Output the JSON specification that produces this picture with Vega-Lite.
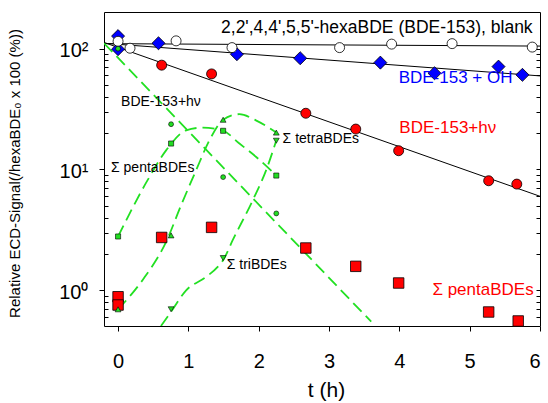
{
  "$schema": "https://vega.github.io/schema/vega-lite/v6.json",
  "width": 436,
  "height": 314,
  "autosize": "none",
  "padding": {"left": 104, "top": 12, "right": 8, "bottom": 77},
  "background": "white",
  "config": {
    "font": "Liberation Sans",
    "view": {"stroke": "black", "strokeWidth": 1},
    "point": {"opacity": 1},
    "axis": {"grid": false, "domain": false, "tickColor": "black", "labelColor": "black", "titleColor": "black", "labelFont": "Liberation Sans", "titleFont": "Liberation Sans", "titleFontWeight": "normal"}
  },
  "datasets": {
    "pts": [
      {"s": "blank", "t": 0, "v": 115},
      {"s": "blank", "t": 0.17, "v": 100.8},
      {"s": "blank", "t": 0.825, "v": 116},
      {"s": "blank", "t": 1.62, "v": 102},
      {"s": "blank", "t": 3.15, "v": 102},
      {"s": "blank", "t": 3.89, "v": 109},
      {"s": "blank", "t": 4.75, "v": 110},
      {"s": "blank", "t": 5.89, "v": 103},
      {"s": "oh", "t": 0, "v": 127},
      {"s": "oh", "t": 0, "v": 99},
      {"s": "oh", "t": 0.575, "v": 110.8},
      {"s": "oh", "t": 1.69, "v": 89.9},
      {"s": "oh", "t": 2.59, "v": 83.3},
      {"s": "oh", "t": 3.73, "v": 76.6},
      {"s": "oh", "t": 4.5, "v": 62.6},
      {"s": "oh", "t": 5.41, "v": 71},
      {"s": "oh", "t": 5.75, "v": 60.7},
      {"s": "hv", "t": 0.62, "v": 73},
      {"s": "hv", "t": 1.33, "v": 61.8},
      {"s": "hv", "t": 2.67, "v": 29.2},
      {"s": "hv", "t": 3.38, "v": 21.6},
      {"s": "hv", "t": 3.99, "v": 14.3},
      {"s": "hv", "t": 5.27, "v": 8.07},
      {"s": "hv", "t": 5.67, "v": 7.57},
      {"s": "pentared", "t": 0, "v": 0.885},
      {"s": "pentared", "t": 0, "v": 0.756},
      {"s": "pentared", "t": 0.62, "v": 2.74},
      {"s": "pentared", "t": 1.33, "v": 3.32},
      {"s": "pentared", "t": 2.67, "v": 2.24},
      {"s": "pentared", "t": 3.38, "v": 1.58},
      {"s": "pentared", "t": 3.99, "v": 1.15},
      {"s": "pentared", "t": 5.27, "v": 0.662},
      {"s": "pentared", "t": 5.69, "v": 0.558},
      {"s": "ghv", "t": 0, "v": 100},
      {"s": "ghv", "t": 0.754, "v": 23.7},
      {"s": "ghv", "t": 1.494, "v": 8.65},
      {"s": "ghv", "t": 2.25, "v": 4.33},
      {"s": "gpenta", "t": 0, "v": 2.79},
      {"s": "gpenta", "t": 0.754, "v": 16.4},
      {"s": "gpenta", "t": 1.494, "v": 20.9},
      {"s": "gpenta", "t": 2.25, "v": 8.91},
      {"s": "gtetra", "t": 0, "v": 0.697},
      {"s": "gtetra", "t": 0.754, "v": 2.85},
      {"s": "gtetra", "t": 1.494, "v": 25.8},
      {"s": "gtetra", "t": 2.25, "v": 20.2},
      {"s": "gtri", "t": 0.754, "v": 0.697},
      {"s": "gtri", "t": 1.494, "v": 1.85},
      {"s": "gtri", "t": 2.25, "v": 17.3}
    ],
    "fits": [
      {"fit": "blank", "t": -0.2, "v": 110},
      {"fit": "blank", "t": 6, "v": 105},
      {"fit": "oh", "t": -0.2, "v": 110.8},
      {"fit": "oh", "t": 6, "v": 59.5},
      {"fit": "hv", "t": -0.2, "v": 112.5},
      {"fit": "hv", "t": 6, "v": 6.0}
    ],
    "curves": [
      {"c": "hvfit", "t": -0.2, "v": 110.8},
      {"c": "hvfit", "t": 3.6, "v": 0.55},
      {"c": "penta", "t": 0, "v": 2.79},
      {"c": "penta", "t": 0.42, "v": 8.16},
      {"c": "penta", "t": 0.683, "v": 14.4},
      {"c": "penta", "t": 0.968, "v": 21.1},
      {"c": "penta", "t": 1.204, "v": 22.2},
      {"c": "penta", "t": 1.494, "v": 20.9},
      {"c": "penta", "t": 1.726, "v": 16.4},
      {"c": "penta", "t": 1.964, "v": 12.7},
      {"c": "penta", "t": 2.25, "v": 8.91},
      {"c": "tetra", "t": 0, "v": 0.697},
      {"c": "tetra", "t": 0.35, "v": 1.22},
      {"c": "tetra", "t": 0.683, "v": 2.52},
      {"c": "tetra", "t": 0.897, "v": 5.07},
      {"c": "tetra", "t": 1.11, "v": 9.87},
      {"c": "tetra", "t": 1.3, "v": 17.5},
      {"c": "tetra", "t": 1.494, "v": 25.8},
      {"c": "tetra", "t": 1.726, "v": 28.7},
      {"c": "tetra", "t": 1.96, "v": 25.5},
      {"c": "tetra", "t": 2.25, "v": 20.2},
      {"c": "tri", "t": 0.61, "v": 0.507},
      {"c": "tri", "t": 0.75, "v": 0.66},
      {"c": "tri", "t": 0.968, "v": 1.0},
      {"c": "tri", "t": 1.25, "v": 1.29},
      {"c": "tri", "t": 1.42, "v": 1.57},
      {"c": "tri", "t": 1.5, "v": 1.8},
      {"c": "tri", "t": 1.63, "v": 2.6},
      {"c": "tri", "t": 1.916, "v": 5.58},
      {"c": "tri", "t": 2.106, "v": 9.87},
      {"c": "tri", "t": 2.25, "v": 17.4}
    ],
    "labels": [
      {"k": "title", "text": "2,2',4,4',5,5'-hexaBDE (BDE-153), blank", "t": 5.895, "v": 133.7},
      {"k": "blue", "text": "BDE-153 + OH", "t": 3.99, "v": 51.7},
      {"k": "red", "text": "BDE-153+hν", "t": 4.0, "v": 19.95},
      {"k": "red", "text": "Σ pentaBDEs", "t": 4.47, "v": 0.914},
      {"k": "small", "text": "BDE-153+hν", "t": 0.043, "v": 33.4},
      {"k": "small", "text": "Σ pentaBDEs", "t": -0.1, "v": 9.5},
      {"k": "small", "text": "Σ tetraBDEs", "t": 2.34, "v": 16.5},
      {"k": "small", "text": "Σ triBDEs", "t": 1.545, "v": 1.5}
    ]
  },
  "resolve": {"axis": {"y": "independent"}},
  "encoding": {
    "x": {
      "field": "t", "type": "quantitative",
      "scale": {"domain": [-0.2, 6], "nice": false, "zero": false},
      "axis": {"values": [0, 1, 2, 3, 4, 5, 6], "tickSize": 5, "labelFontSize": 20, "labelPadding": 20, "title": "t   (h)", "titleFontSize": 21, "titleX": 222, "titleY": 70, "titleBaseline": "alphabetic", "titleAlign": "center"}
    },
    "y": {
      "field": "v", "type": "quantitative",
      "scale": {"type": "log", "domain": [0.507, 201], "nice": false},
      "axis": null
    }
  },
  "layer": [
    {
      "data": {"name": "fits"},
      "mark": {"type": "line", "color": "black", "strokeWidth": 1},
      "encoding": {
        "detail": {"field": "fit"},
        "y": {
          "field": "v", "type": "quantitative",
          "scale": {"type": "log", "domain": [0.507, 201], "nice": false},
          "axis": {"orient": "left", "values": [1, 10, 100], "labelExpr": "datum.value == 100 ? '10²' : datum.value == 10 ? '10¹' : '10⁰'", "tickSize": 5, "labelFontSize": 20, "labelPadding": 11, "labelBaseline": "alphabetic", "labelOffset": 8, "title": "Relative ECD-Signal(/hexaBDE₀ x 100 (%))", "titleFontSize": 15, "titleX": -85, "titleY": 161, "titleAngle": 270, "titleAlign": "center", "titleBaseline": "alphabetic"}
        }
      }
    },
    {
      "data": {"name": "curves"},
      "mark": {"type": "line", "color": "#22e022", "strokeWidth": 1.8, "strokeDash": [12, 6], "interpolate": "monotone", "clip": true},
      "encoding": {
        "detail": {"field": "c"},
        "y": {
          "field": "v", "type": "quantitative",
          "scale": {"type": "log", "domain": [0.507, 201], "nice": false},
          "axis": {"orient": "left", "values": [0.6, 0.7, 0.8, 0.9, 2, 3, 4, 5, 6, 7, 8, 9, 20, 30, 40, 50, 60, 70, 80, 90], "tickSize": -4, "labels": false, "title": null}
        }
      }
    },
    {
      "data": {"name": "pts"},
      "transform": [{"filter": "datum.s == 'pentared'"}],
      "mark": {"type": "point", "shape": "square", "filled": true, "fill": "#ff0000", "stroke": "black", "strokeWidth": 0.8, "size": 110},
      "encoding": {
        "y": {
          "field": "v", "type": "quantitative",
          "scale": {"type": "log", "domain": [0.507, 201], "nice": false},
          "axis": {"orient": "right", "values": [0.6, 0.7, 0.8, 0.9, 1, 2, 3, 4, 5, 6, 7, 8, 9, 10, 20, 30, 40, 50, 60, 70, 80, 90, 100], "tickSize": -4, "labels": false, "title": null}
        }
      }
    },
    {
      "data": {"name": "pts"},
      "transform": [{"filter": "datum.s == 'hv'"}],
      "mark": {"type": "point", "shape": "circle", "filled": true, "fill": "#ff0000", "stroke": "black", "strokeWidth": 0.8, "size": 100}
    },
    {
      "data": {"name": "pts"},
      "transform": [{"filter": "datum.s == 'oh'"}],
      "mark": {"type": "point", "shape": "diamond", "filled": true, "fill": "#0000ff", "stroke": "black", "strokeWidth": 0.8, "size": 170}
    },
    {
      "data": {"name": "pts"},
      "transform": [{"filter": "datum.s == 'blank'"}],
      "mark": {"type": "point", "shape": "circle", "filled": true, "fill": "white", "stroke": "black", "strokeWidth": 0.8, "size": 100}
    },
    {
      "data": {"name": "pts"},
      "transform": [{"filter": "datum.s == 'ghv'"}],
      "mark": {"type": "point", "shape": "circle", "filled": true, "fill": "#22dd22", "stroke": "black", "strokeWidth": 0.6, "size": 24}
    },
    {
      "data": {"name": "pts"},
      "transform": [{"filter": "datum.s == 'gpenta'"}],
      "mark": {"type": "point", "shape": "square", "filled": true, "fill": "#22dd22", "stroke": "black", "strokeWidth": 0.6, "size": 26}
    },
    {
      "data": {"name": "pts"},
      "transform": [{"filter": "datum.s == 'gtetra'"}],
      "mark": {"type": "point", "shape": "triangle-up", "filled": true, "fill": "#22dd22", "stroke": "black", "strokeWidth": 0.6, "size": 34}
    },
    {
      "data": {"name": "pts"},
      "transform": [{"filter": "datum.s == 'gtri'"}],
      "mark": {"type": "point", "shape": "triangle-down", "filled": true, "fill": "#22dd22", "stroke": "black", "strokeWidth": 0.6, "size": 34}
    },
    {
      "data": {"name": "labels"},
      "transform": [{"filter": "datum.k == 'title'"}],
      "mark": {"type": "text", "align": "right", "baseline": "alphabetic", "fontSize": 17.5, "color": "black"},
      "encoding": {"text": {"field": "text"}}
    },
    {
      "data": {"name": "labels"},
      "transform": [{"filter": "datum.k == 'blue'"}],
      "mark": {"type": "text", "align": "left", "baseline": "alphabetic", "fontSize": 17, "color": "#0000ff"},
      "encoding": {"text": {"field": "text"}}
    },
    {
      "data": {"name": "labels"},
      "transform": [{"filter": "datum.k == 'red'"}],
      "mark": {"type": "text", "align": "left", "baseline": "alphabetic", "fontSize": 17, "color": "#ff0000"},
      "encoding": {"text": {"field": "text"}}
    },
    {
      "data": {"name": "labels"},
      "transform": [{"filter": "datum.k == 'small'"}],
      "mark": {"type": "text", "align": "left", "baseline": "alphabetic", "fontSize": 14, "color": "black"},
      "encoding": {"text": {"field": "text"}}
    }
  ]
}
